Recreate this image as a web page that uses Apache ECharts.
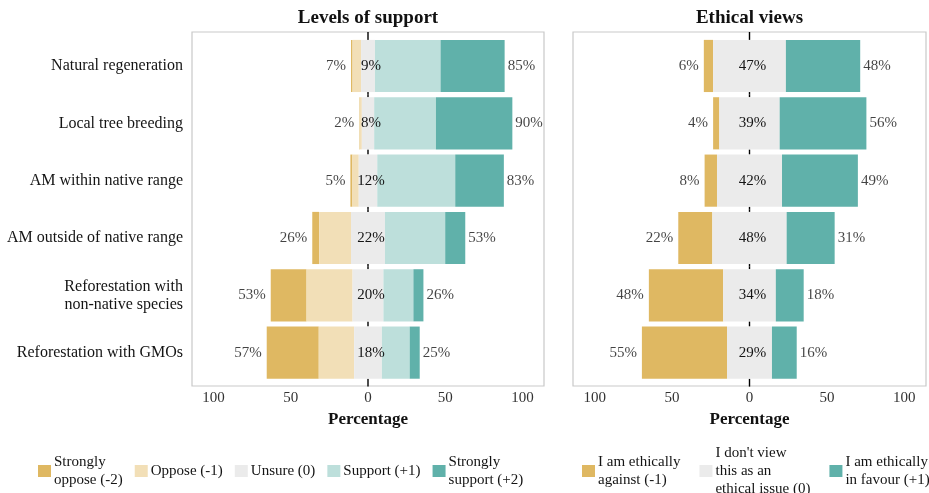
<!DOCTYPE html>
<html>
<head>
<meta charset="utf-8">
<title>Levels of support and ethical views</title>
<script src="https://cdn.jsdelivr.net/npm/echarts@6/dist/echarts.min.js"></script>
<style>
  html, body { margin: 0; padding: 0; background: #fff; }
  #chart { width: 929px; height: 493px; }
</style>
</head>
<body>
<div id="chart"></div>
<script>
// categories, top to bottom
var categories = [
  'Natural regeneration',
  'Local tree breeding',
  'AM within native range',
  'AM outside of native range',
  'Reforestation with\nnon-native species',
  'Reforestation with GMOs'
];

// Levels of support (percent of respondents)
var stronglyOppose = [1, 0.3, 1.3, 4.5, 23.2, 33.7];
var oppose = [5.5, 1.3, 4.1, 20.6, 29.8, 22.9];
var unsure = [9, 8, 12, 22, 20, 18];
var support = [42.5, 40, 50.5, 39, 19.4, 18];
var stronglySupport = [41.5, 49.5, 31.5, 13, 6.5, 6.5];
// printed labels
var opposeLabels = [7, 2, 5, 26, 53, 57];
var unsureLabels = [9, 8, 12, 22, 20, 18];
var supportLabels = [85, 90, 83, 53, 26, 25];

// Ethical views
var against = [6, 4, 8, 22, 48, 55];
var noIssue = [47, 39, 42, 48, 34, 29];
var favour = [48, 56, 49, 31, 18, 16];

var tickValues = [-100, -50, 0, 50, 100];

var legendText = {
  'Strongly oppose (-2)': 'Strongly\noppose (-2)',
  'Oppose (-1)': 'Oppose (-1)',
  'Unsure (0)': 'Unsure (0)',
  'Support (+1)': 'Support (+1)',
  'Strongly support (+2)': 'Strongly\nsupport (+2)',
  'I am ethically against (-1)': 'I am ethically\nagainst (-1)',
  "I don't view this as an ethical issue (0)": "I don't view\nthis as an\nethical issue (0)",
  'I am ethically in favour (+1)': 'I am ethically\nin favour (+1)'
};

var gold = '#dfb862', wheat = '#f2dfb7', grey = '#ebebeb', mint = '#bddfdb', teal = '#60b1aa';
var serif = "'Liberation Serif', 'DejaVu Serif', serif";
var ink = '#141414';
var barShare = 0.91;   // bar thickness as share of the category band
var frameOverhang = 37.3 - 32;   // panel frame reaches a little past the first / last band

var chart = echarts.init(document.getElementById('chart'), null, { renderer: 'canvas' });

var pctFont = { fontFamily: serif, fontSize: 15, color: ink };

function bar(name, data, color, stack, axis, midLabels) {
  var s = {
    name: name, type: 'bar', stack: stack, stackStrategy: 'all', data: data,
    xAxisIndex: axis, yAxisIndex: axis,
    barCategoryGap: ((1 - barShare) * 100) + '%',
    itemStyle: { color: color },
    silent: true, z: 2
  };
  if (midLabels) {
    // neutral block is centred on 0, so its own centre label sits on the zero line
    s.label = Object.assign({
      show: true, position: 'inside', offset: [3, 0],
      formatter: function (p) { return midLabels[p.dataIndex] + '%'; }
    }, pctFont);
  }
  return s;
}

function labels(points, pos, dist, axis) {
  return {
    type: 'scatter', xAxisIndex: axis, yAxisIndex: axis,
    symbolSize: 0, silent: true, z: 5, data: points,
    label: Object.assign({
      show: true, position: pos, distance: dist,
      formatter: function (p) { return p.value[2] + '%'; }
    }, pctFont)
  };
}

// black line at 0, only in the gaps between bars (it sits behind the bars in the original)
function zeroLine(axis) {
  var n = categories.length;
  return {
    type: 'custom', xAxisIndex: axis, yAxisIndex: axis, silent: true, z: 1,
    data: categories.map(function (c, i) { return [0, i]; }),
    encode: { x: 0, y: 1 },
    renderItem: function (params, api) {
      var i = api.value(1);
      var p = api.coord([0, i]);
      var band = api.size([0, 1])[1];
      var half = band * barShare / 2;
      var style = { stroke: '#000', lineWidth: 1.4 };
      return {
        type: 'group',
        children: [
          { type: 'line', shape: { x1: p[0], y1: p[1] - band / 2 - (i === 0 ? frameOverhang : 0), x2: p[0], y2: p[1] - half }, style: style },
          { type: 'line', shape: { x1: p[0], y1: p[1] + half, x2: p[0], y2: p[1] + band / 2 + (i === n - 1 ? frameOverhang : 0) }, style: style }
        ]
      };
    }
  };
}

// left end of each diverging bar (neutral block is centred on 0)
var supStart = categories.map(function (c, i) { return -(unsure[i] / 2 + oppose[i] + stronglyOppose[i]); });
var supEnd = categories.map(function (c, i) { return unsure[i] / 2 + support[i] + stronglySupport[i]; });
var ethStart = categories.map(function (c, i) { return -(noIssue[i] / 2 + against[i]); });
var ethEnd = categories.map(function (c, i) { return noIssue[i] / 2 + favour[i]; });

var supLeft = categories.map(function (c, i) { return [supStart[i], i, opposeLabels[i]]; });
var supRight = categories.map(function (c, i) { return [supEnd[i], i, supportLabels[i]]; });
var ethLeft = categories.map(function (c, i) { return [ethStart[i], i, against[i]]; });
var ethRight = categories.map(function (c, i) { return [ethEnd[i], i, favour[i]]; });

function dataX(gridIndex, title) {
  return {
    type: 'value', gridIndex: gridIndex, min: -114, max: 114, position: 'top',
    axisLine: { show: false }, axisTick: { show: false }, axisLabel: { show: false },
    splitLine: { show: false },
    name: title, nameLocation: 'middle', nameGap: 10,
    nameTextStyle: { fontFamily: serif, fontSize: 19, fontWeight: 'bold', color: '#111' }
  };
}
function frameX(gridIndex) {
  return {
    type: 'value', gridIndex: gridIndex, min: -114, max: 114, position: 'bottom',
    axisLine: { show: false, onZero: false }, axisTick: { show: false },
    splitLine: { show: false },
    axisLabel: {
      customValues: tickValues,
      margin: 5, fontFamily: serif, fontSize: 15, color: '#333',
      formatter: function (v) { return Math.abs(v); }
    },
    name: 'Percentage', nameLocation: 'middle', nameGap: 15,
    nameTextStyle: { fontFamily: serif, fontSize: 17, fontWeight: 'bold', color: '#111', verticalAlign: 'top' }
  };
}
function frameY(gridIndex) {
  return {
    type: 'value', gridIndex: gridIndex, min: 0, max: 1,
    axisLine: { show: false }, axisTick: { show: false }, axisLabel: { show: false }, splitLine: { show: false }
  };
}
function catY(gridIndex, showLabels) {
  return {
    type: 'category', gridIndex: gridIndex, data: categories, inverse: true,
    axisLine: { show: false }, axisTick: { show: false }, splitLine: { show: false },
    axisLabel: {
      show: showLabels, margin: 9, fontFamily: serif, fontSize: 16, lineHeight: 18,
      color: ink, align: 'right'
    }
  };
}

var legendBase = {
  orient: 'horizontal', icon: 'rect', itemWidth: 13, itemHeight: 12,
  selectedMode: false, padding: 0,
  textStyle: { fontFamily: serif, fontSize: 15, lineHeight: 18, color: ink, padding: [0, 0, 0, -2] },
  formatter: function (n) { return legendText[n] || n; }
};

var option = {
  animation: false,
  backgroundColor: '#fff',
  grid: [
    { left: 192, top: 37.3, width: 352, height: 344 },
    { left: 192, top: 32, width: 352, height: 354, show: true, borderColor: '#c9c9c9', borderWidth: 1.2, backgroundColor: 'transparent' },
    { left: 573, top: 37.3, width: 353, height: 344 },
    { left: 573, top: 32, width: 353, height: 354, show: true, borderColor: '#c9c9c9', borderWidth: 1.2, backgroundColor: 'transparent' }
  ],
  xAxis: [dataX(0, 'Levels of support'), frameX(1), dataX(2, 'Ethical views'), frameX(3)],
  yAxis: [catY(0, true), frameY(1), catY(2, false), frameY(3)],
  legend: [
    Object.assign({}, legendBase, {
      left: 38, top: 453, itemGap: 12,
      data: ['Strongly oppose (-2)', 'Oppose (-1)', 'Unsure (0)', 'Support (+1)', 'Strongly support (+2)']
    }),
    Object.assign({}, legendBase, {
      left: 582, top: 444, itemGap: 19, width: 420,
      data: ['I am ethically against (-1)', "I don't view this as an ethical issue (0)", 'I am ethically in favour (+1)']
    })
  ],
  series: [
    zeroLine(0),
    zeroLine(2),

    // transparent offset so the stack starts at the left end of each bar
    bar('', supStart, 'transparent', 'sup', 0),
    bar('Strongly oppose (-2)', stronglyOppose, gold, 'sup', 0),
    bar('Oppose (-1)', oppose, wheat, 'sup', 0),
    bar('Unsure (0)', unsure, grey, 'sup', 0, unsureLabels),
    bar('Support (+1)', support, mint, 'sup', 0),
    bar('Strongly support (+2)', stronglySupport, teal, 'sup', 0),
    labels(supLeft, 'left', 5, 0),
    labels(supRight, 'right', 3, 0),

    bar('', ethStart, 'transparent', 'eth', 2),
    bar('I am ethically against (-1)', against, gold, 'eth', 2),
    bar("I don't view this as an ethical issue (0)", noIssue, grey, 'eth', 2, noIssue),
    bar('I am ethically in favour (+1)', favour, teal, 'eth', 2),
    labels(ethLeft, 'left', 5, 2),
    labels(ethRight, 'right', 3, 2)
  ]
};

chart.setOption(option);
</script>
</body>
</html>
